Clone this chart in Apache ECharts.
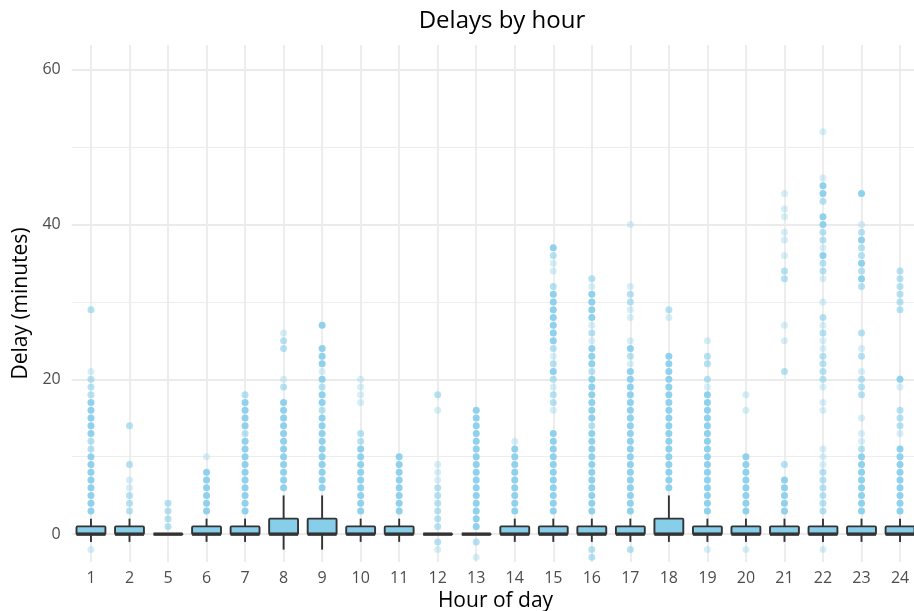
<!DOCTYPE html>
<html>
<head>
<meta charset="utf-8">
<script src="https://cdn.jsdelivr.net/npm/echarts@6/dist/echarts.min.js"></script>
<style>
html,body{margin:0;padding:0;background:#fff;}
#c{width:914px;height:611px;}
</style>
</head>
<body>
<div id="c"></div>
<script>
// Categories (hour of day)
const hours = ['1','2','5','6','7','8','9','10','11','12','13','14','15','16','17','18','19','20','21','22','23','24'];
// Box statistics per hour
const boxMin = [-1,-1,0,-1,-1,-2,-2,-1,-1,0,0,-1,-1,-1,-1,-1,-1,-1,-1,-1,-1,-1];
const boxQ1  = [0,0,0,0,0,0,0,0,0,0,0,0,0,0,0,0,0,0,0,0,0,0];
const boxMed = [0,0,0,0,0,0,0,0,0,0,0,0,0,0,0,0,0,0,0,0,0,0];
const boxQ3  = [1,1,0,1,1,2,2,1,1,0,0,1,1,1,1,2,1,1,1,1,1,1];
const boxMax = [2,2,0,2,2,5,5,2,2,0,0,2,2,2,2,5,2,2,2,2,2,2];
// Individual delay points per hour: [delay minutes, overlap density 1..3]
const points = [
  [[29,2],[21,1],[20,2],[19,2],[18,2],[17,3],[16,3],[15,3],[14,3],[13,3],[12,2],[11,2],[10,3],[9,3],[8,3],[7,3],[6,3],[5,3],[4,3],[3,3],[-2,1]],
  [[14,2],[9,2],[7,1],[6,1],[5,2],[4,2],[3,2]],
  [[4,2],[3,2],[2,2],[1,2]],
  [[10,1],[8,3],[7,3],[6,3],[5,3],[4,3],[3,3]],
  [[18,2],[17,3],[16,3],[15,3],[14,3],[13,2],[12,3],[11,3],[10,3],[9,3],[8,3],[7,3],[6,3],[5,3],[4,3],[3,3]],
  [[26,1],[25,2],[24,2],[20,1],[19,2],[17,3],[16,3],[15,3],[14,3],[13,3],[12,3],[11,3],[10,3],[9,3],[8,3],[7,3],[6,3]],
  [[27,3],[24,3],[23,3],[22,3],[21,1],[20,3],[19,2],[18,3],[17,3],[16,2],[15,3],[14,3],[13,3],[12,3],[11,3],[10,3],[9,3],[8,3],[7,3],[6,3]],
  [[20,1],[19,1],[18,1],[17,1],[13,2],[12,2],[11,3],[10,3],[9,3],[8,3],[7,3],[6,3],[5,3],[4,3],[3,3]],
  [[10,3],[9,3],[8,3],[7,3],[6,3],[5,3],[4,3],[3,3]],
  [[18,2],[16,1],[9,1],[8,1],[7,1],[6,2],[5,2],[4,2],[3,2],[2,2],[1,2],[-1,2],[-2,1]],
  [[16,3],[15,3],[14,3],[13,3],[12,3],[11,3],[10,3],[9,3],[8,3],[7,3],[6,3],[5,3],[4,3],[3,3],[2,3],[1,3],[-1,2],[-3,1]],
  [[12,1],[11,3],[10,3],[9,3],[8,3],[7,3],[6,3],[5,3],[4,3],[3,3]],
  [[37,3],[36,2],[35,1],[34,1],[32,2],[31,3],[30,3],[29,3],[28,3],[27,3],[26,3],[25,3],[24,2],[23,1],[22,2],[21,3],[20,2],[19,1],[18,2],[17,2],[16,1],[13,3],[12,3],[11,3],[10,3],[9,3],[8,3],[7,3],[6,3],[5,3],[4,3],[3,3]],
  [[33,2],[32,1],[31,3],[30,3],[29,3],[28,3],[27,1],[26,2],[25,1],[24,3],[23,3],[22,3],[21,2],[20,3],[19,3],[18,3],[17,3],[16,3],[15,3],[14,2],[13,3],[12,3],[11,3],[10,3],[9,3],[8,3],[7,3],[6,3],[5,3],[4,3],[3,3],[-2,2],[-3,2]],
  [[40,1],[32,1],[31,2],[30,2],[29,1],[28,1],[25,1],[24,3],[23,2],[22,1],[21,3],[20,3],[19,3],[18,3],[17,3],[16,3],[15,3],[14,3],[13,3],[12,3],[11,3],[10,3],[9,3],[8,3],[7,3],[6,3],[5,3],[4,3],[3,3],[-2,2]],
  [[29,2],[28,1],[23,3],[22,3],[21,3],[20,3],[19,3],[18,3],[17,3],[16,3],[15,3],[14,3],[13,3],[12,3],[11,3],[10,3],[9,3],[8,3],[7,3],[6,3]],
  [[25,1],[23,2],[22,2],[20,2],[19,1],[18,3],[17,3],[16,3],[15,3],[14,3],[13,3],[12,3],[11,3],[10,3],[9,3],[8,3],[7,3],[6,3],[5,3],[4,3],[3,3],[-2,1]],
  [[18,1],[16,1],[10,3],[9,3],[8,3],[7,3],[6,3],[5,3],[4,3],[3,3],[-2,1]],
  [[44,1],[42,1],[41,1],[39,1],[38,1],[36,1],[34,2],[33,2],[27,1],[25,1],[21,2],[9,2],[7,3],[6,3],[5,3],[4,3],[3,3]],
  [[52,1],[46,1],[45,3],[44,3],[43,2],[41,3],[40,3],[39,2],[38,2],[37,1],[36,3],[35,2],[34,2],[33,1],[30,1],[28,2],[27,1],[26,2],[25,1],[24,1],[23,2],[22,2],[21,2],[20,2],[19,1],[17,1],[16,1],[11,1],[10,1],[9,1],[8,2],[7,2],[6,2],[5,2],[4,2],[3,2],[-2,1]],
  [[44,3],[40,1],[39,2],[38,3],[37,2],[36,2],[35,3],[34,2],[33,3],[32,2],[26,2],[24,1],[23,2],[21,1],[20,2],[19,2],[18,2],[15,1],[13,1],[12,1],[11,2],[10,3],[9,3],[8,3],[7,3],[6,3],[5,3],[4,3],[3,3]],
  [[34,2],[33,2],[32,2],[31,2],[30,2],[29,2],[20,3],[19,1],[16,2],[15,2],[14,2],[13,1],[11,3],[10,3],[9,3],[8,3],[7,3],[6,3],[5,3],[4,3],[3,3]]
];
const yTickLabels = [0, 20, 40, 60];

const FONT = 'Open Sans';
const SKY = '#87CEEB';
const opacityByDensity = {1: 0.35, 2: 0.62, 3: 0.92};

const scatterData = [];
points.forEach(function (list, i) {
  list.forEach(function (p) {
    scatterData.push({ value: [i, p[0]], itemStyle: { opacity: opacityByDensity[p[1]] } });
  });
});
const boxData = hours.map(function (h, i) {
  return [i, boxMin[i], boxQ1[i], boxMed[i], boxQ3[i], boxMax[i]];
});

const chart = echarts.init(document.getElementById('c'), null, { renderer: 'canvas' });
chart.setOption({
  backgroundColor: '#fff',
  animation: false,
  textStyle: { fontFamily: FONT },
  title: {
    text: 'Delays by hour', left: 497, textAlign: 'center', top: 4,
    textStyle: { fontFamily: FONT, fontSize: 24, fontWeight: 'normal', color: '#000' }
  },
  grid: { left: 71.7, right: -5.3, top: 45, bottom: 49, containLabel: false, outerBoundsMode: 'none' },
  xAxis: {
    type: 'category', data: hours, boundaryGap: true,
    name: 'Hour of day', nameLocation: 'middle', nameGap: 25,
    nameTextStyle: { fontFamily: FONT, fontSize: 21, color: '#000' },
    axisLine: { show: false }, axisTick: { show: false },
    axisLabel: { fontFamily: FONT, fontSize: 16, color: '#4d4d4d', margin: 8, interval: 0 },
    splitLine: { show: true, alignWithLabel: true, lineStyle: { color: '#ebebeb', width: 1.8 } }
  },
  yAxis: {
    type: 'value', min: -3.6, max: 63.2, splitNumber: 3,
    name: 'Delay (minutes)', nameLocation: 'middle', nameGap: 37, nameRotate: 90,
    nameTextStyle: { fontFamily: FONT, fontSize: 21, color: '#000' },
    axisLine: { show: false }, axisTick: { show: false },
    axisLabel: {
      fontFamily: FONT, fontSize: 16, color: '#4d4d4d', margin: 11,
      showMinLabel: false, showMaxLabel: false,
      formatter: function (v) { return yTickLabels.indexOf(v) >= 0 ? String(v) : ''; }
    },
    splitLine: { show: true, showMinLine: false, showMaxLine: false, lineStyle: { color: '#ebebeb', width: 1.8 } },
    minorTick: { show: false, splitNumber: 2 },
    minorSplitLine: { show: true, lineStyle: { color: '#ededed', width: 1.2 } }
  },
  series: [
    {
      type: 'scatter', data: scatterData, symbol: 'circle', symbolSize: 7,
      itemStyle: { color: SKY }, silent: true, z: 2
    },
    {
      type: 'custom', data: boxData, z: 3, silent: true,
      encode: { x: 0, y: [1, 2, 3, 4, 5] },
      renderItem: function (params, api) {
        const idx = api.value(0);
        const pMin = api.coord([idx, api.value(1)]);
        const pQ1 = api.coord([idx, api.value(2)]);
        const pMed = api.coord([idx, api.value(3)]);
        const pQ3 = api.coord([idx, api.value(4)]);
        const pMax = api.coord([idx, api.value(5)]);
        const bw = api.size([1, 0])[0] * 0.75;
        const x = pMed[0];
        const stroke = { stroke: '#333333', lineWidth: 1.9, lineCap: 'butt' };
        return {
          type: 'group',
          children: [
            { type: 'line', shape: { x1: x, y1: pQ3[1], x2: x, y2: pMax[1] }, style: stroke },
            { type: 'line', shape: { x1: x, y1: pQ1[1], x2: x, y2: pMin[1] }, style: stroke },
            { type: 'rect', shape: { x: x - bw / 2, y: pQ3[1], width: bw, height: pQ1[1] - pQ3[1], r: 1 },
              style: { fill: SKY, stroke: '#333333', lineWidth: 1.9, lineJoin: 'round' } },
            { type: 'line', shape: { x1: x - bw / 2, y1: pMed[1], x2: x + bw / 2, y2: pMed[1] },
              style: { stroke: '#333333', lineWidth: 3.4, lineCap: 'butt' } }
          ]
        };
      }
    }
  ]
});
</script>
</body>
</html>
